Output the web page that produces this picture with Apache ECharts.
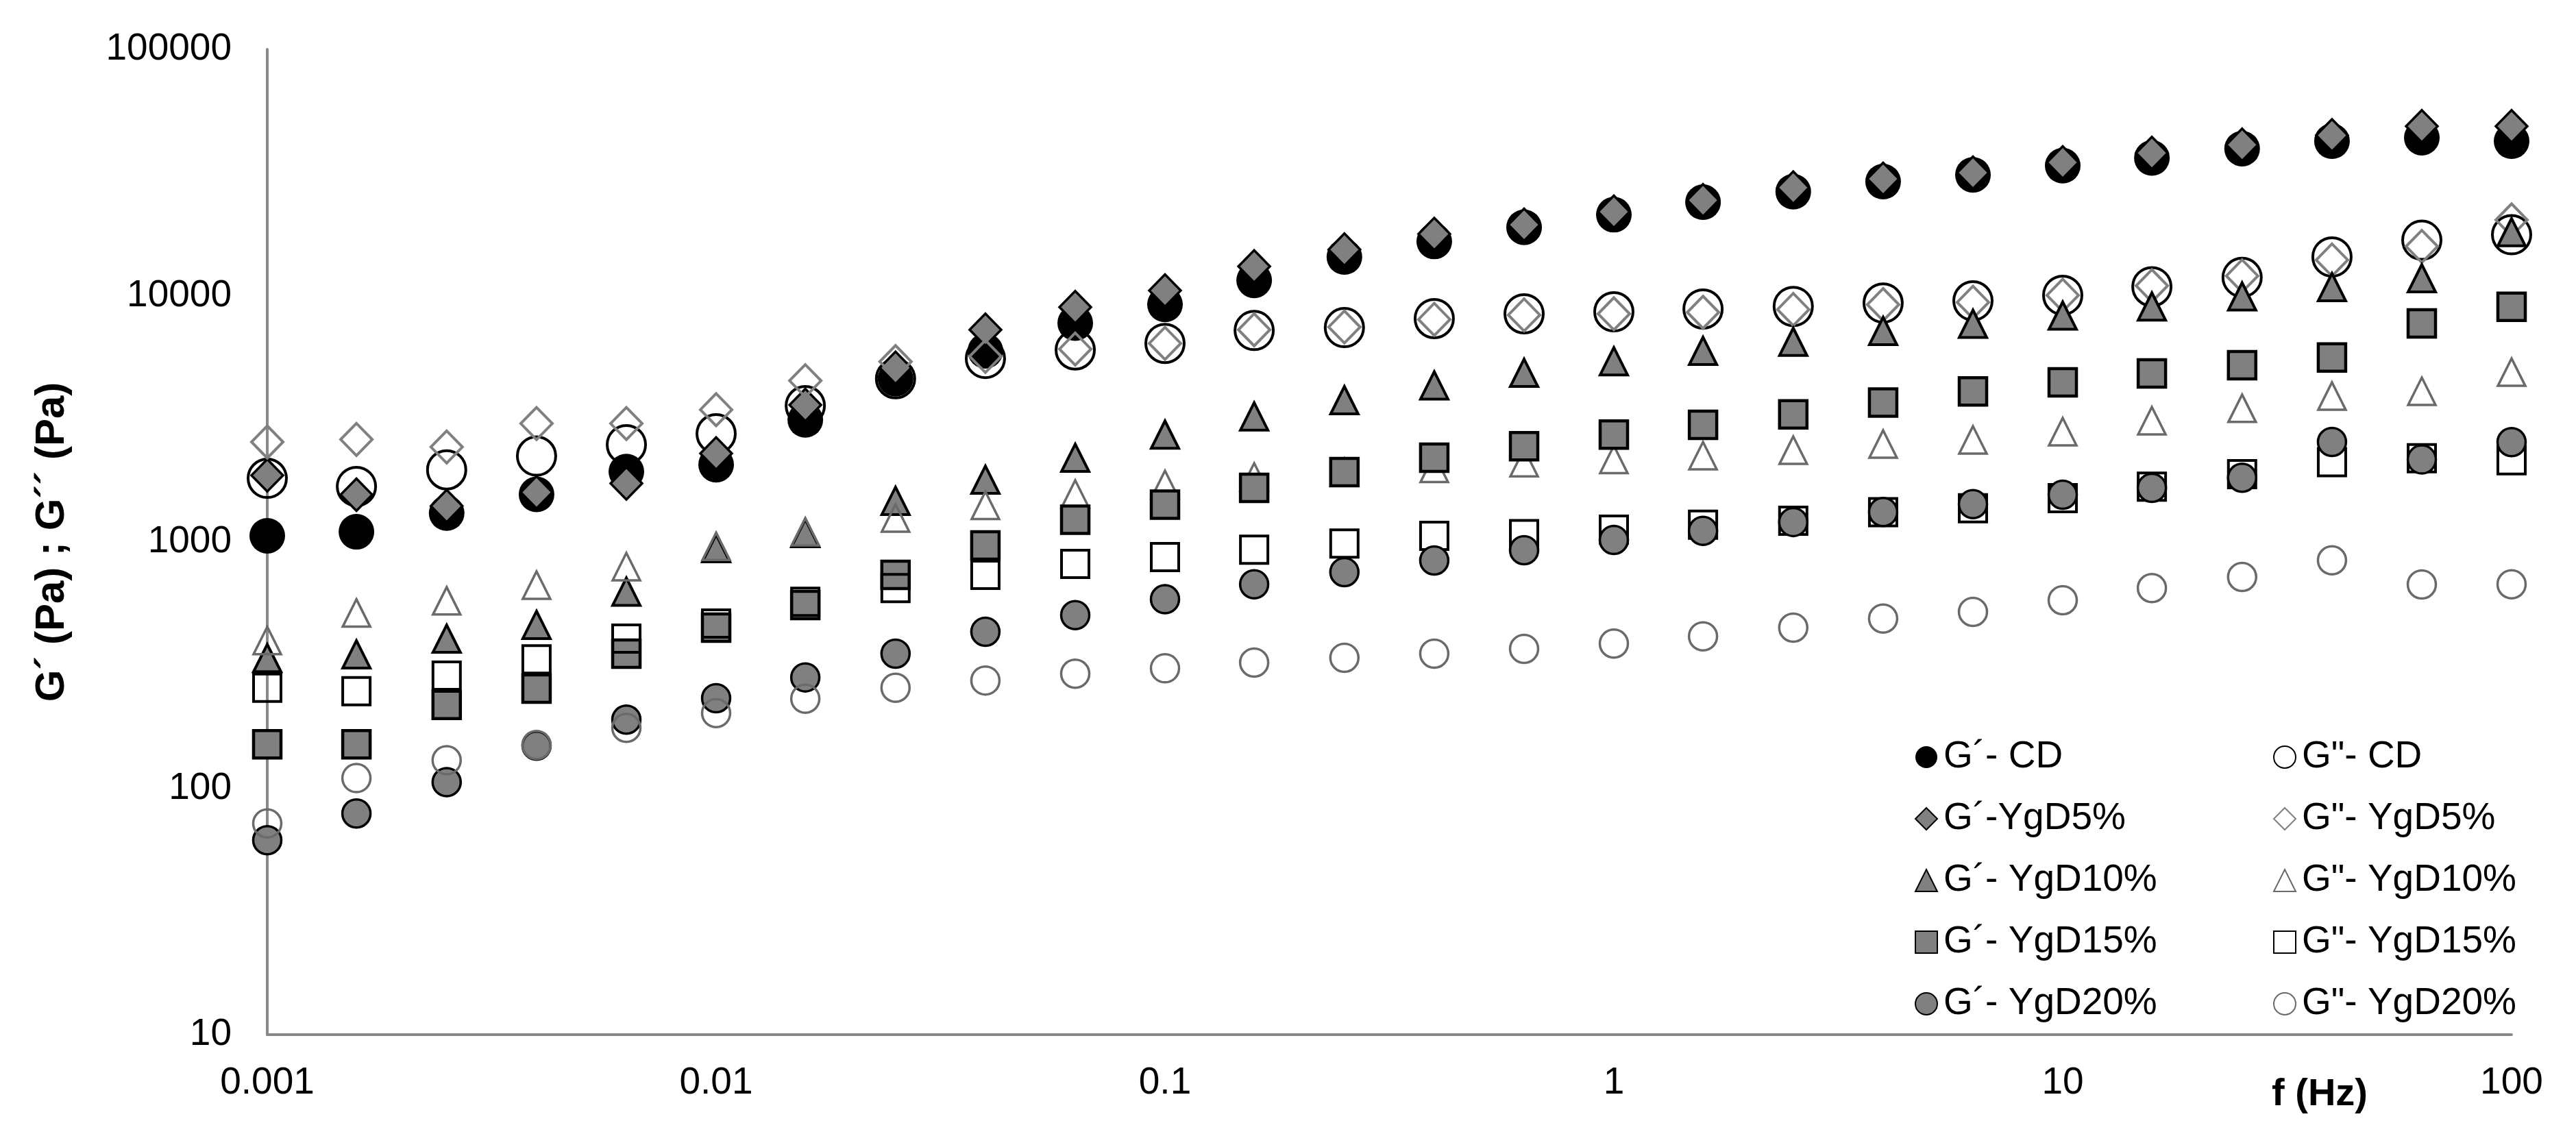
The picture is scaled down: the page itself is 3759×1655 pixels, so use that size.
<!DOCTYPE html>
<html>
<head>
<meta charset="utf-8">
<script src="https://cdn.jsdelivr.net/npm/echarts@6/dist/echarts.min.js"></script>
<style>
html,body{margin:0;padding:0;background:#fff;}
#chart{width:3759px;height:1655px;}
</style>
</head>
<body>
<div id="chart"></div>
<script>
const freq = [0.001,0.00158,0.00251,0.00398,0.00631,0.01,0.0158,0.0251,0.0398,0.0631,0.1,0.158,0.251,0.398,0.631,1,1.58,2.51,3.98,6.31,10,15.8,25.1,39.8,63.1,100];

const gp_CD   = [1060,1100,1310,1560,1930,2060,3130,4600,5970,7740,9210,11540,14360,16600,18950,21310,23960,26430,29050,30930,33700,36230,39520,42380,43780,42380];
const gpp_CD  = [1814,1680,1963,2233,2485,2750,3577,4600,5560,6020,6400,7220,7420,8070,8440,8600,8830,9040,9330,9530,10040,10870,11860,14360,16790,17670];
const gp_5    = [1865,1555,1400,1590,1730,2290,3600,5100,7270,8980,10500,13160,15390,17790,19410,21910,24400,27480,29800,31580,34780,37960,40960,44790,48710,48710];
const gpp_5   = [2547,2608,2431,3027,3027,3445,4517,5400,5670,6070,6400,7270,7460,8010,8350,8440,8560,8790,9200,9400,10040,10970,12030,13960,15850,20300];
const gp_10   = [338,350,405,461,629,944,1087,1469,1790,2197,2729,3236,3765,4322,4863,5419,5970,6500,7190,7690,8300,9040,9930,10830,11770,18110];
const gpp_10  = [398,515,577,668,794,960,1100,1251,1409,1566,1713,1837,1920,1991,2100,2163,2240,2360,2500,2597,2805,3107,3490,3914,4090,4893];
const gp_15   = [151,151,218,254,352,449,555,735,968,1231,1417,1658,1922,2197,2449,2729,2990,3298,3680,4086,4448,4834,5220,5612,7710,9016];
const gpp_15  = [256,248,287,334,405,467,572,650,735,815,869,931,986,1059,1077,1123,1175,1219,1321,1371,1506,1678,1884,2108,2189,2148];
const gp_20   = [61.6,79,106,149,190,232,282,352,432,505,586,673,754,841,926,1019,1110,1205,1324,1425,1555,1659,1823,2548,2162,2545];
const gpp_20  = [72,110,130,150,176,202,231,256,274,292,307,324,339,352,368,387,414,449,489,520,580,650,721,843,672,673];

const xTickLabels = ['0.001','0.01','0.1','1','10','100'];
const yTickLabels = ['10','100','1000','10000','100000'];

const namesLeft  = ['G\u00b4- CD','G\u00b4-YgD5%','G\u00b4- YgD10%','G\u00b4- YgD15%','G\u00b4- YgD20%'];
const namesRight = ['G"- CD','G"- YgD5%','G"- YgD10%','G"- YgD15%','G"- YgD20%'];

const FONT = 'Liberation Sans, Arial, sans-serif';
const GREY = '#808080';
const DGREY = '#6a6a6a';

function pts(arr){ return freq.map((f,i)=>[f, arr[i]]); }

function s(name, values, symbol, size, fill, border, bw){
  return {
    name: name, type: 'scatter', data: pts(values),
    symbol: symbol, symbolSize: size,
    itemStyle: {color: fill, borderColor: border, borderWidth: bw, opacity: 1},
    emphasis: {disabled: true},
    silent: true
  };
}

const series = [
  s(namesLeft[0],  gp_CD,  'circle',   52, '#000000', '#000000', 0),
  s(namesRight[0], gpp_CD, 'circle',   56, 'rgba(0,0,0,0)', '#000000', 4),
  s(namesLeft[1],  gp_5,   'diamond',  [46,47], GREY, '#000000', 3.5),
  s(namesRight[1], gpp_5,  'diamond',  [46,47], 'rgba(0,0,0,0)', GREY, 4),
  s(namesLeft[2],  gp_10,  'triangle', [40,40], GREY, '#000000', 4),
  s(namesRight[2], gpp_10, 'triangle', [40,40], 'rgba(0,0,0,0)', DGREY, 3.5),
  s(namesLeft[3],  gp_15,  'rect',     [40,40], GREY, '#000000', 4.5),
  s(namesRight[3], gpp_15, 'rect',     [40,40], 'rgba(0,0,0,0)', '#000000', 4),
  s(namesLeft[4],  gp_20,  'circle',   41, GREY, '#000000', 3.5),
  s(namesRight[4], gpp_20, 'circle',   41, 'rgba(0,0,0,0)', DGREY, 3.5)
];

function legendAt(left, names){
  return {
    data: names, orient: 'vertical', left: left, top: 1072,
    itemWidth: 32, itemHeight: 32, itemGap: 34,
    selectedMode: false,
    textStyle: {fontFamily: FONT, fontSize: 55, color: '#000', lineHeight: 56, padding: [0,0,0,4]}
  };
}

const chart = echarts.init(document.getElementById('chart'), null, {renderer: 'canvas'});
chart.setOption({
  animation: false,
  backgroundColor: '#ffffff',
  grid: {left: 390, right: 94, top: 72, bottom: 145, containLabel: false},
  legend: [legendAt(2789, namesLeft), legendAt(3312, namesRight)],
  xAxis: {
    type: 'log', logBase: 10, min: 0.001, max: 100,
    name: 'f (Hz)', nameLocation: 'end', nameGap: -280,
    nameTextStyle: {fontFamily: FONT, fontSize: 56, fontWeight: 'bold', color: '#000', align: 'center', verticalAlign: 'top', lineHeight: 56, padding: [60,0,0,0]},
    axisLine: {show: true, onZero: false, lineStyle: {color: '#898989', width: 4}},
    axisTick: {show: false},
    splitLine: {show: false},
    axisLabel: {
      fontFamily: FONT, fontSize: 55, color: '#000', margin: 43, lineHeight: 55,
      formatter: v => xTickLabels[Math.round(Math.log10(v)) + 3]
    }
  },
  yAxis: {
    type: 'log', logBase: 10, min: 10, max: 100000,
    name: 'G\u00b4 (Pa) ; G\u00b4\u00b4 (Pa)', nameLocation: 'middle', nameRotate: 90, nameGap: 284,
    nameTextStyle: {fontFamily: FONT, fontSize: 60, fontWeight: 'bold', color: '#000'},
    axisLine: {show: true, onZero: false, lineStyle: {color: '#898989', width: 4}},
    axisTick: {show: false},
    splitLine: {show: false},
    axisLabel: {
      fontFamily: FONT, fontSize: 55, color: '#000', margin: 52,
      formatter: v => yTickLabels[Math.round(Math.log10(v)) - 1]
    }
  },
  series: series
});
</script>
</body>
</html>
